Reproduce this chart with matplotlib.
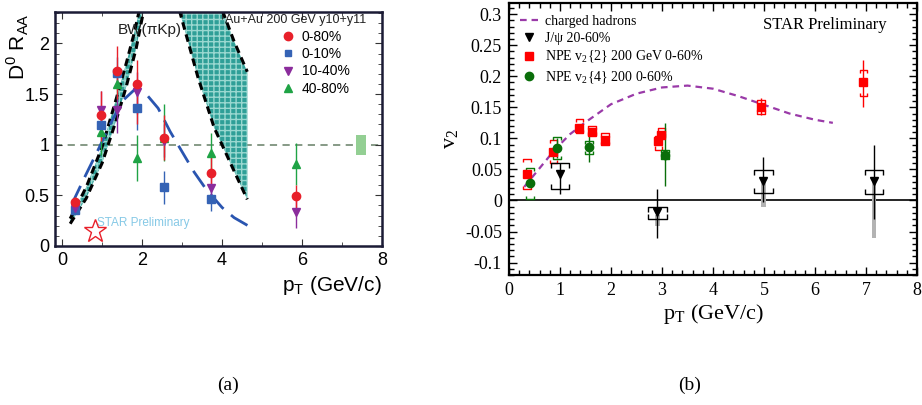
import numpy as np
import matplotlib
matplotlib.use("Agg")
from matplotlib import pyplot as plt
from matplotlib.collections import LineCollection
from matplotlib.lines import Line2D
from matplotlib.ticker import MultipleLocator


# ---------------- panel (a): D0 R_AA ----------------
PT_D0 = [0.33, 0.97, 1.37, 1.87, 2.55, 3.73, 5.85]
RAA_0_80 = [0.43, 1.29, 1.73, 1.60, 1.07, 0.72, 0.49]
RAA_0_80_LO = [0.38, 1.04, 1.45, 1.20, 0.85, 0.56, 0.36]
RAA_0_80_HI = [0.48, 1.53, 1.97, 1.84, 1.29, 0.88, 0.60]

PT_D0_CENT = [0.33, 0.97, 1.37, 1.87, 2.55, 3.73]
RAA_0_10 = [0.36, 1.19, 1.71, 1.36, 0.58, 0.46]
RAA_0_10_LO = [0.32, 1.08, 1.55, 1.15, 0.41, 0.35]
RAA_0_10_HI = [0.40, 1.30, 1.87, 1.55, 0.74, 0.56]

RAA_10_40 = [0.38, 1.34, 1.34, 1.52, 1.04, 0.57, 0.34]
RAA_10_40_LO = [0.34, 1.10, 1.12, 1.30, 0.88, 0.45, 0.18]
RAA_10_40_HI = [0.42, 1.53, 1.50, 1.72, 1.20, 0.68, 0.47]

RAA_40_80 = [0.37, 1.13, 1.60, 0.87, 1.07, 0.92, 0.81]
RAA_40_80_LO = [0.33, 0.90, 1.45, 0.64, 0.84, 0.70, 0.60]
RAA_40_80_HI = [0.41, 1.30, 1.72, 1.10, 1.40, 1.12, 1.02]

# blast-wave band (lower / upper edge)
BW_LO_PT = [0.2, 0.6, 1.0, 1.35, 1.6, 1.85, 2.05, 2.3, 2.6, 2.95, 3.4, 3.8, 4.3, 4.63]
BW_LO = [0.22, 0.47, 0.82, 1.24, 1.57, 1.95, 2.35, 2.6, 2.6, 2.3, 1.66, 1.17, 0.74, 0.46]
BW_HI_PT = [0.2, 0.6, 1.0, 1.35, 1.6, 1.8, 2.0, 2.5, 3.0, 3.5, 4.03, 4.3, 4.63]
BW_HI = [0.27, 0.58, 0.98, 1.45, 1.80, 2.10, 2.45, 2.9, 3.0, 2.9, 2.3, 2.02, 1.72]

# model curve (blue long dash)
MODEL_PT = [0.25, 0.6, 0.9, 1.2, 1.5, 1.8, 2.1, 2.4, 2.7, 3.0, 3.3, 3.6, 4.0, 4.3, 4.65]
MODEL_RAA = [0.42, 0.71, 0.95, 1.20, 1.43, 1.54, 1.50, 1.36, 1.13, 0.93, 0.73, 0.56, 0.38, 0.28, 0.20]

NORM_PT = 7.47
NORM_UNC = 0.10

# ---------------- panel (b): v2 ----------------
HAD_PT = [0.3, 0.6, 0.9, 1.2, 1.5, 2.0, 2.5, 3.0, 3.5, 4.0, 4.5, 5.0, 5.5, 6.0, 6.35]
HAD_V2 = [0.022, 0.052, 0.082, 0.107, 0.126, 0.155, 0.172, 0.182, 0.185, 0.180, 0.168, 0.154, 0.140, 0.130, 0.125]

JPSI_PT = [1.0, 2.91, 4.99, 7.16]
JPSI_V2 = [0.042, -0.018, 0.031, 0.031]
JPSI_STAT_LO = [0.011, -0.060, -0.003, -0.030]
JPSI_STAT_HI = [0.060, 0.019, 0.070, 0.089]
JPSI_SYS_LO = [0.019, -0.030, 0.012, 0.010]
JPSI_SYS_HI = [0.060, -0.010, 0.049, 0.049]
JPSI_NF_LO = [np.nan, -0.041, -0.010, -0.060]
JPSI_NF_HI = [np.nan, -0.024, 0.030, 0.030]

NPE2_PT = [0.35, 0.87, 1.38, 1.63, 1.88, 2.93, 2.99, 4.94, 6.95]
NPE2_V2 = [0.042, 0.078, 0.117, 0.111, 0.098, 0.095, 0.106, 0.151, 0.190]
NPE2_STAT_LO = [0.039, 0.074, 0.112, 0.106, 0.093, 0.090, 0.101, 0.137, 0.150]
NPE2_STAT_HI = [0.045, 0.082, 0.122, 0.116, 0.103, 0.100, 0.111, 0.165, 0.226]
NPE2_SYS_LO = [0.019, 0.060, 0.108, 0.105, 0.089, 0.082, 0.103, 0.140, 0.168]
NPE2_SYS_HI = [0.067, 0.097, 0.131, 0.120, 0.108, 0.104, 0.116, 0.162, 0.210]

NPE4_PT = [0.41, 0.94, 1.57, 3.06]
NPE4_V2 = [0.028, 0.084, 0.086, 0.074]
NPE4_STAT_LO = [0.024, 0.068, 0.062, 0.024]
NPE4_STAT_HI = [0.032, 0.100, 0.108, 0.125]
NPE4_SYS_LO = [0.002, 0.066, 0.075, 0.066]
NPE4_SYS_HI = [0.052, 0.102, 0.096, 0.082]


def err(y, lo, hi):
    y, lo, hi = np.asarray(y), np.asarray(lo), np.asarray(hi)
    return [y - lo, hi - y]


def draw_brackets(ax, x, lo, hi, half_w, tick, color, lw=1.0):
    segs = []
    for xi, l, h in zip(x, lo, hi):
        segs.append([(xi - half_w, h - tick), (xi - half_w, h), (xi + half_w, h), (xi + half_w, h - tick)])
        segs.append([(xi - half_w, l + tick), (xi - half_w, l), (xi + half_w, l), (xi + half_w, l + tick)])
    ax.add_collection(LineCollection(segs, colors=color, linewidths=lw, zorder=4))


def panel_a(ax):
    sans = "Liberation Sans"
    red, blue, purple, green = "#e8202a", "#3563b5", "#8b2c9c", "#1fa345"

    poly_x = np.concatenate([BW_HI_PT, BW_LO_PT[::-1]])
    poly_y = np.concatenate([BW_HI, BW_LO[::-1]])
    ax.fill(poly_x, poly_y, facecolor="#2f9f97", edgecolor="#9ad8d0", hatch="+++", lw=0, zorder=1)
    ax.plot(BW_LO_PT, BW_LO, color="black", lw=2.2, dashes=(2.5, 1.6), zorder=2)
    ax.plot(BW_HI_PT, BW_HI, color="black", lw=2.2, dashes=(2.5, 1.6), zorder=2)

    ax.plot(MODEL_PT, MODEL_RAA, color="#2a55b0", lw=2.0, dashes=(7, 3.5), zorder=2)
    ax.axhline(1.0, color="#7d927d", lw=1.3, dashes=(4, 3), zorder=0)
    ax.bar(NORM_PT, 2 * NORM_UNC, bottom=1 - NORM_UNC, width=0.25, color="#93cf93", zorder=1)

    kw = dict(elinewidth=1.0, capsize=0, ms=6, zorder=5, lw=0)
    ax.errorbar(PT_D0, RAA_40_80, yerr=err(RAA_40_80, RAA_40_80_LO, RAA_40_80_HI), fmt="^", color=green, **kw)
    ax.errorbar(PT_D0_CENT, RAA_0_10, yerr=err(RAA_0_10, RAA_0_10_LO, RAA_0_10_HI), fmt="s", color=blue, ms=5.5,
                elinewidth=1.0, capsize=0, zorder=5, lw=0)
    ax.errorbar(PT_D0, RAA_10_40, yerr=err(RAA_10_40, RAA_10_40_LO, RAA_10_40_HI), fmt="v", color=purple, **kw)
    ax.errorbar(PT_D0, RAA_0_80, yerr=err(RAA_0_80, RAA_0_80_LO, RAA_0_80_HI), fmt="o", color=red, **kw)

    ax.plot([0.82], [0.15], marker="*", ms=17, mfc="none", mec=red, mew=1.0, zorder=6)
    ax.text(0.88, 0.23, "STAR Preliminary", color="#86c9e6", fontsize=8.5, family=sans, va="center")
    ax.text(1.4, 2.13, "BW(\u03c0Kp)", fontsize=11, family=sans, va="center", color="#222222")
    ax.text(4.07, 2.23, "Au+Au 200 GeV y10+y11", fontsize=9, family=sans, va="center", color="#222222")

    handles = [
        Line2D([], [], ls="none", marker="o", color=red, ms=6),
        Line2D([], [], ls="none", marker="s", color=blue, ms=5),
        Line2D([], [], ls="none", marker="v", color=purple, ms=6),
        Line2D([], [], ls="none", marker="^", color=green, ms=6),
    ]
    ax.legend(handles, ["0-80%", "0-10%", "10-40%", "40-80%"], loc="upper left",
              bbox_to_anchor=(0.695, 0.925), frameon=False, handlelength=0.8, handletextpad=0.6,
              labelspacing=0.25, prop={"family": sans, "size": 10}, borderaxespad=0, borderpad=0)

    ax.set_xlim(-0.18, 8.0)
    ax.set_ylim(0, 2.31)
    ax.xaxis.set_major_locator(MultipleLocator(2))
    ax.xaxis.set_minor_locator(MultipleLocator(1))
    ax.yaxis.set_major_locator(MultipleLocator(0.5))
    ax.yaxis.set_minor_locator(MultipleLocator(0.1))
    ax.set_yticks([0, 0.5, 1, 1.5, 2], ["0", "0.5", "1", "1.5", "2"])
    ax.tick_params(which="both", direction="in", top=True, right=True, labelsize=13, color="#333333", pad=4)
    ax.tick_params(which="major", length=5)
    ax.tick_params(which="minor", length=3)
    for lab in ax.get_xticklabels() + ax.get_yticklabels():
        lab.set_family(sans)
    for sp in ax.spines.values():
        sp.set_linewidth(1.8)
        sp.set_color("#1b1b35")

    ax.set_xlabel("p$_\\mathregular{T}$ (GeV/c)", family=sans, fontsize=15, loc="right", labelpad=4)
    ax.set_ylabel("D$^\\mathregular{0}$ R$_\\mathregular{AA}$", family=sans, fontsize=15)
    ax.yaxis.set_label_coords(-0.112, 0.85)
    ax.yaxis.label.set_va("center")
    ax.yaxis.label.set_ha("center")


def panel_b(ax):
    serif = "Liberation Serif"
    ax.axhline(0, color="black", lw=1.2, zorder=1)
    ax.plot(HAD_PT, HAD_V2, color="#9a3aa8", lw=1.6, dashes=(3, 2.2), zorder=2)

    # non-flow band for J/psi
    nf_lo = np.asarray(JPSI_NF_LO)
    nf_hi = np.asarray(JPSI_NF_HI)
    ax.bar(JPSI_PT, nf_hi - nf_lo, bottom=nf_lo, width=0.09, color="#b3b3b3", zorder=2)

    draw_brackets(ax, NPE2_PT, NPE2_SYS_LO, NPE2_SYS_HI, 0.075, 0.005, "red")
    draw_brackets(ax, NPE4_PT, NPE4_SYS_LO, NPE4_SYS_HI, 0.075, 0.005, "#0a7a0a")
    draw_brackets(ax, JPSI_PT, JPSI_SYS_LO, JPSI_SYS_HI, 0.18, 0.008, "black")

    kw = dict(capsize=0, elinewidth=1.0, lw=0, zorder=5)
    ax.errorbar(NPE2_PT, NPE2_V2, yerr=err(NPE2_V2, NPE2_STAT_LO, NPE2_STAT_HI), fmt="s", color="red", ms=6, **kw)
    ax.errorbar(NPE4_PT, NPE4_V2, yerr=err(NPE4_V2, NPE4_STAT_LO, NPE4_STAT_HI), fmt="o", color="#0a6e0a", ms=6, **kw)
    ax.errorbar(JPSI_PT, JPSI_V2, yerr=err(JPSI_V2, JPSI_STAT_LO, JPSI_STAT_HI), fmt="v", color="black", ms=6, **kw)

    ax.text(4.98, 0.283, "STAR Preliminary", family=serif, fontsize=12, va="center")

    handles = [
        Line2D([], [], color="#9a3aa8", lw=1.6, dashes=(3, 2.2)),
        Line2D([], [], ls="none", marker="v", color="black", ms=6),
        Line2D([], [], ls="none", marker="s", color="red", ms=6),
        Line2D([], [], ls="none", marker="o", color="#0a6e0a", ms=6),
    ]
    labels = [
        "charged hadrons",
        "J/\u03c8 20-60%",
        "NPE v$_\\mathregular{2}${2} 200 GeV 0-60%",
        "NPE v$_\\mathregular{2}${4} 200 0-60%",
    ]
    ax.legend(handles, labels, loc="upper left", bbox_to_anchor=(0.028, 0.955), frameon=False,
              handlelength=1.3, handletextpad=0.5, labelspacing=0.28, borderpad=0, borderaxespad=0,
              prop={"family": serif, "size": 10})

    ax.set_xlim(0, 8)
    ax.set_ylim(-0.12, 0.318)
    ax.xaxis.set_major_locator(MultipleLocator(1))
    ax.xaxis.set_minor_locator(MultipleLocator(0.2))
    ax.set_yticks([-0.1, -0.05, 0, 0.05, 0.1, 0.15, 0.2, 0.25, 0.3],
                  ["-0.1", "-0.05", "0", "0.05", "0.1", "0.15", "0.2", "0.25", "0.3"])
    ax.yaxis.set_minor_locator(MultipleLocator(0.01))
    ax.tick_params(which="both", direction="in", top=True, right=True, labelsize=13, width=1.0)
    ax.tick_params(which="major", length=6, pad=5)
    ax.tick_params(which="minor", length=3.5)
    for lab in ax.get_xticklabels() + ax.get_yticklabels():
        lab.set_family(serif)
    for sp in ax.spines.values():
        sp.set_linewidth(1.6)

    ax.set_xlabel("p$_\\mathregular{T}$ (GeV/c)", family=serif, fontsize=16, labelpad=2)
    ax.set_ylabel("v$_\\mathregular{2}$", family=serif, fontsize=16)
    ax.yaxis.set_label_coords(-0.118, 0.5)


def main() -> None:
    fig = plt.figure(figsize=(9.22, 4.05), dpi=100)
    fig.patch.set_facecolor("white")

    ax_a = fig.add_axes([55 / 922, 1 - 246 / 405, 327 / 922, 234 / 405])
    ax_b = fig.add_axes([509 / 922, 1 - 275 / 405, 408 / 922, 272 / 405])
    panel_a(ax_a)
    panel_b(ax_b)

    fig.text(228 / 922, 1 - 385 / 405, "(a)", family="Liberation Serif", fontsize=14, ha="center", va="center")
    fig.text(690 / 922, 1 - 385 / 405, "(b)", family="Liberation Serif", fontsize=14, ha="center", va="center")

    fig.savefig("out.png", dpi=100)
    plt.close(fig)


if __name__ == "__main__":
    main()
